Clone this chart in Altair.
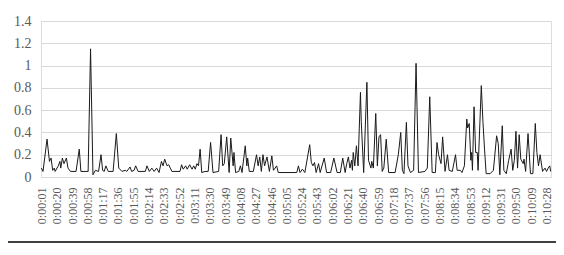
import altair as alt
import pandas as pd

# elapsed time in seconds and the plotted value
seconds = [1, 3, 8, 11, 13, 15, 17, 18, 22, 24, 25, 27, 29, 32, 34, 37, 44, 48, 50, 59,
           62, 65, 68, 72, 75, 77, 79, 81, 84, 90, 94, 97, 101, 105, 107, 111, 113, 116, 118, 121,
           130, 132, 135, 138, 141, 144, 147, 150, 152, 154, 157, 159, 161, 163, 173, 175, 177, 180, 182, 185,
           188, 190, 192, 194, 196, 198, 200, 204, 208, 211, 214, 221, 224, 226, 228, 231, 234, 236, 239, 240,
           242, 246, 248, 250, 254, 256, 257, 259, 264, 268, 270, 272, 274, 276, 278, 281, 284, 287, 289, 293,
           295, 318, 320, 322, 325, 328, 334, 336, 338, 340, 342, 345, 347, 352, 355, 360, 364, 368, 372, 375,
           378, 380, 382, 384, 386, 387, 388, 390, 392, 394, 397, 398, 401, 405, 407, 410, 411, 413, 416, 418,
           420, 422, 424, 426, 429, 432, 440, 444, 447, 449, 451, 454, 456, 459, 463, 466, 469, 477, 480, 483,
           486, 490, 492, 494, 497, 499, 502, 505, 507, 511, 515, 517, 521, 523, 526, 529, 530, 532, 534, 535,
           536, 538, 540, 542, 543, 547, 549, 551, 553, 558, 562, 566, 568, 570, 573, 575, 578, 581, 584, 586,
           588, 590, 592, 594, 596, 599, 600, 602, 605, 608, 611, 614, 616, 618, 620, 623, 626, 628, 630, 632,
           633]
values = [0.08, 0.05, 0.34, 0.14, 0.17, 0.06, 0.08, 0.05, 0.10, 0.14, 0.08, 0.17, 0.12, 0.17, 0.08, 0.05, 0.05, 0.25, 0.05, 0.05,
          1.15, 0.02, 0.06, 0.05, 0.20, 0.06, 0.05, 0.10, 0.05, 0.05, 0.39, 0.08, 0.05, 0.06, 0.05, 0.09, 0.05, 0.06, 0.10, 0.05,
          0.05, 0.10, 0.05, 0.08, 0.05, 0.08, 0.04, 0.14, 0.10, 0.16, 0.10, 0.11, 0.08, 0.05, 0.05, 0.11, 0.07, 0.10, 0.07, 0.11,
          0.07, 0.10, 0.07, 0.12, 0.10, 0.25, 0.04, 0.05, 0.05, 0.31, 0.04, 0.05, 0.38, 0.10, 0.12, 0.36, 0.04, 0.35, 0.10, 0.22,
          0.04, 0.05, 0.10, 0.04, 0.28, 0.10, 0.17, 0.05, 0.05, 0.20, 0.10, 0.18, 0.05, 0.20, 0.10, 0.18, 0.05, 0.19, 0.06, 0.10,
          0.04, 0.04, 0.10, 0.04, 0.07, 0.04, 0.29, 0.13, 0.10, 0.13, 0.04, 0.12, 0.04, 0.17, 0.04, 0.04, 0.17, 0.04, 0.04, 0.17,
          0.04, 0.12, 0.18, 0.08, 0.15, 0.06, 0.22, 0.10, 0.28, 0.10, 0.76, 0.50, 0.04, 0.85, 0.15, 0.08, 0.14, 0.08, 0.57, 0.10,
          0.36, 0.38, 0.05, 0.08, 0.34, 0.04, 0.04, 0.20, 0.40, 0.06, 0.03, 0.49, 0.10, 0.04, 0.06, 1.02, 0.04, 0.05, 0.08, 0.72,
          0.04, 0.04, 0.31, 0.20, 0.12, 0.36, 0.05, 0.20, 0.06, 0.05, 0.20, 0.06, 0.06, 0.04, 0.10, 0.52, 0.44, 0.48, 0.15, 0.22,
          0.06, 0.63, 0.22, 0.22, 0.06, 0.82, 0.50, 0.25, 0.03, 0.03, 0.06, 0.37, 0.30, 0.02, 0.46, 0.06, 0.03, 0.15, 0.25, 0.06,
          0.15, 0.41, 0.08, 0.38, 0.16, 0.12, 0.16, 0.05, 0.39, 0.03, 0.03, 0.48, 0.22, 0.10, 0.20, 0.05, 0.08, 0.05, 0.08, 0.10,
          0.05]

# tick labels every 19 seconds: 0:00:01 ... 0:10:28
tick_seconds = list(range(1, 629, 19))
y_ticks = [0, 0.2, 0.4, 0.6, 0.8, 1.0, 1.2, 1.4]

df = pd.DataFrame({"t": seconds, "v": values})

FONT = "Liberation Serif"
label_expr = ("'0:' + (floor(datum.value/60) < 10 ? '0' : '') + floor(datum.value/60) + ':' + "
              "(datum.value % 60 < 10 ? '0' : '') + (datum.value % 60)")

line = alt.Chart(df).mark_line(color="#1a1a1a", strokeWidth=1).encode(
    x=alt.X("t:Q",
            scale=alt.Scale(domain=[0.5, 633.5], nice=False, zero=False),
            axis=alt.Axis(values=tick_seconds, labelExpr=label_expr, labelAngle=-90,
                          labelFont=FONT, labelFontSize=12, labelColor="#595959",
                          labelPadding=10, ticks=False, domain=False, grid=False,
                          title=None, labelOverlap=False, labelFlush=False)),
    y=alt.Y("v:Q",
            scale=alt.Scale(domain=[0, 1.4], nice=False),
            axis=alt.Axis(values=y_ticks, format="~g", labelFont=FONT, labelFontSize=14,
                          labelColor="#595959", labelPadding=10, ticks=False, domain=False,
                          grid=True, gridColor="#d9d9d9", gridWidth=1, title=None)),
)

bottom_rule = alt.Chart(pd.DataFrame({"k": [0]})).mark_rule(color="#000000", strokeWidth=1.5).encode(
    x=alt.value(-33), x2=alt.value(515), y=alt.value(221)
)

chart = alt.layer(line, bottom_rule).properties(
    width=510, height=156,
    autosize=alt.AutoSizeParams(type="none"),
    padding={"left": 33, "top": 13, "right": 5, "bottom": 68},
).configure_view(stroke=None).configure(background="white")

chart.save("out.html", embed_options={"renderer": "svg", "actions": False})
